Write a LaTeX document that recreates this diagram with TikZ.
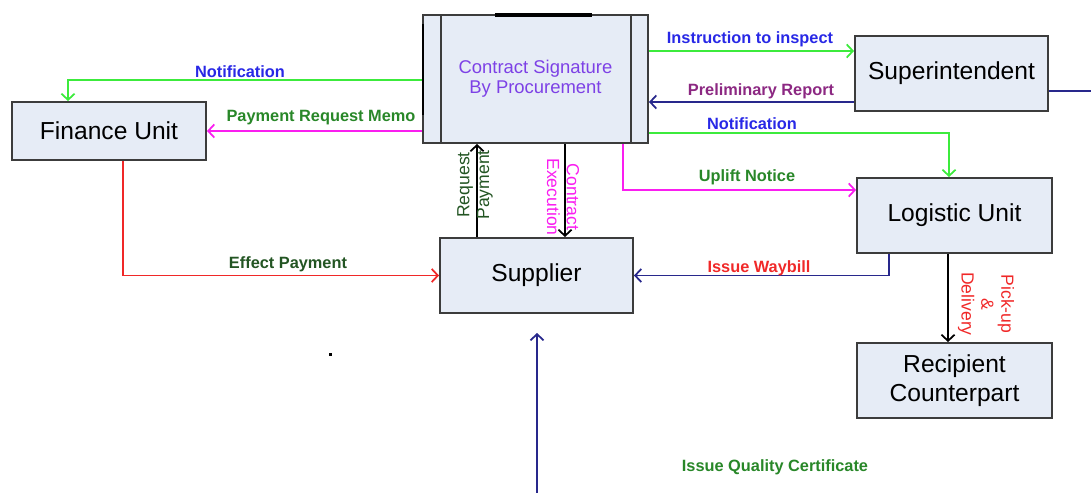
\documentclass[tikz,border=0pt]{standalone}
\usepackage{fontspec}
\setmainfont{Liberation Sans}
\usetikzlibrary{arrows.meta}

\definecolor{boxfill}{RGB}{230,236,246}
\definecolor{boxline}{RGB}{60,60,60}
\definecolor{conpurple}{RGB}{125,65,230}
\definecolor{lgreen}{RGB}{60,235,60}
\definecolor{lblue}{RGB}{40,40,230}
\definecolor{lmagenta}{RGB}{250,30,240}
\definecolor{navy}{RGB}{40,40,140}
\definecolor{dgreen}{RGB}{40,135,40}
\definecolor{ddgreen}{RGB}{35,85,35}
\definecolor{lpurple}{RGB}{140,40,130}
\definecolor{lred}{RGB}{240,40,40}

\begin{document}
\begin{tikzpicture}[x=0.02cm,y=-0.02cm,
  >={Straight Barb[length=3.5pt,width=7.5pt]},
  box/.style={draw=boxline,fill=boxfill,line width=1.1pt,align=center,inner sep=0pt,
    font=\fontsize{14}{16.5}\selectfont},
  lbl/.style={font=\fontsize{9.3}{11}\selectfont\bfseries},
  vlbl/.style={font=\fontsize{10}{11.3}\selectfont,align=center},
  link/.style={line width=1pt,->}]

  \useasboundingbox (0,0) rectangle (1091,493);

  % boxes
  \node[box,minimum width=4.5cm,minimum height=2.56cm,text=conpurple,
    font=\fontsize{10.5}{11.5}\selectfont] (con) at (535.5,79) {Contract Signature\\By Procurement};
  \draw[boxline,line width=1.1pt] ([xshift=0.38cm]con.north west) -- ([xshift=0.38cm]con.south west);
  \draw[boxline,line width=1.1pt] ([xshift=-0.36cm]con.north east) -- ([xshift=-0.36cm]con.south east);
  \draw[line width=2pt] (495,15) -- (592,15);
  \draw[line width=1.5pt] (423,24) -- (423,115);

  \node[box,minimum width=3.88cm,minimum height=1.16cm] (fin) at (109,131) {Finance Unit};
  \node[box,minimum width=3.86cm,minimum height=1.5cm] (super) at (951.5,73.5) {Superintendent};
  \node[box,minimum width=3.9cm,minimum height=1.5cm] (log) at (954.5,215.5) {Logistic Unit};
  \node[box,minimum width=3.9cm,minimum height=1.5cm] (rec) at (954.5,380.5) {Recipient\\Counterpart};
  \node[box,minimum width=3.86cm,minimum height=1.5cm] (supplier) at (536.5,275.5) {Supplier};

  % connectors
  \draw[link,lgreen] (con.west |- 0,80) -| (fin.north -| 68,0);
  \draw[link,lmagenta] (con.west |- fin.east) -- (fin.east);
  \draw[link,lgreen] (con.east |- 0,51) -- (super.west |- 0,51);
  \draw[link,navy] (super.west |- 0,102) -- (con.east |- 0,102);
  \draw[link,lgreen] (con.east |- 0,133) -| (log.north -| 949,0);
  \draw[link,lmagenta] (con.south -| 623,0) |- (log.west |- 0,190);
  \coordinate (supout) at (1091,91);
  \draw[navy,line width=1pt] (super.east |- supout) -- (supout);

  \draw[link,black] (supplier.north -| 477,0) -- (con.south -| 477,0);
  \draw[link,black] (con.south -| 565,0) -- (supplier.north -| 565,0);
  \draw[link,lred] (fin.south -| 123,0) |- (supplier.west);
  \draw[link,navy] (log.south -| 889,0) |- (supplier.east);
  \draw[link,black] (log.south -| 948,0) -- (rec.north -| 948,0);

  \coordinate (qbot) at (537,493);
  \coordinate (qtop) at (537,333);
  \draw[link,navy] (qbot) -- (qtop);

  % labels
  \node[lbl,text=lblue] (lnotif) at (240,72) {Notification};
  \node[lbl,text=dgreen] (lmemo) at (321,118) {Payment Request Memo};
  \node[lbl,text=lblue] (linstr) at (750,39) {Instruction to inspect};
  \node[lbl,text=lpurple] (lprelim) at (761,91) {Preliminary Report};
  \node[lbl,text=lblue] (lnotifr) at (752,124) {Notification};
  \node[lbl,text=dgreen] (luplift) at (747,177) {Uplift Notice};
  \node[lbl,text=lred] (lwaybill) at (759,268) {Issue Waybill};
  \node[lbl,text=ddgreen] (leffect) at (288,264) {Effect Payment};
  \node[lbl,text=dgreen] (lquality) at (775,467) {Issue Quality Certificate};

  \node[vlbl,rotate=90,text=ddgreen] (lreq) at (475,185) {Request\\Payment};
  \node[vlbl,rotate=-90,text=lmagenta] (lexec) at (563,197) {Contract\\Execution};
  \node[vlbl,rotate=-90,text=lred] (lpick) at (986,304) {Pick-up\\\&\\Delivery};

  \fill (328.5,352.5) rectangle (331.5,355.5);
\end{tikzpicture}
\end{document}
